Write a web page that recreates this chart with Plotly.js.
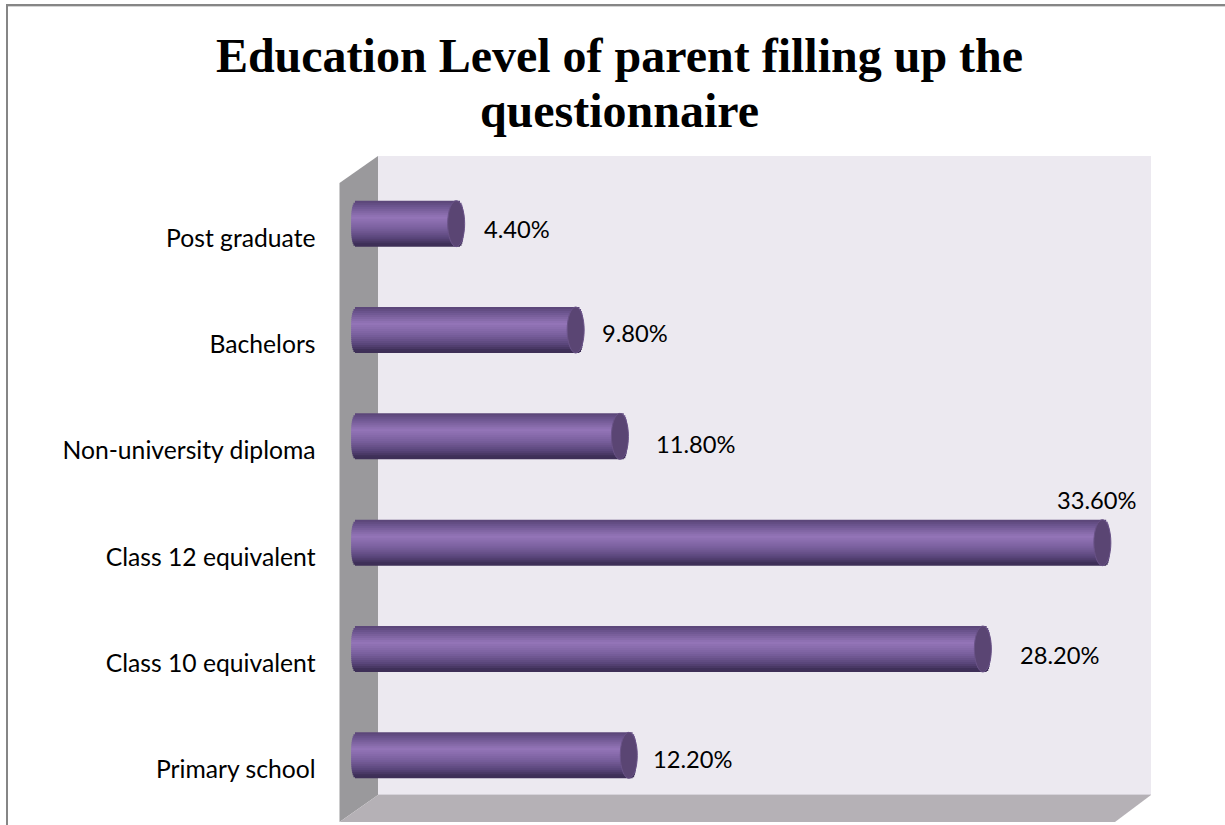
<!DOCTYPE html>
<html>
<head>
<meta charset="utf-8">
<script src="https://cdn.plot.ly/plotly-3.0.1.min.js"></script>
<style>html,body{margin:0;padding:0;background:#fff;overflow:hidden}</style>
</head>
<body>
<div id="chart" style="width:1225px;height:825px"></div>
<script>
// Education level shares, listed bottom to top on the category axis.
const levels = ['Primary school', 'Class 10 equivalent', 'Class 12 equivalent',
                'Non-university diploma', 'Bachelors', 'Post graduate'];
const shares = [12.2, 28.2, 33.6, 11.8, 9.8, 4.4];

// Data label nudges from the end of each bar, in pixels.
const labelDx = [64, 77, -5.5, 76, 59, 61];
const labelDy = [11, 9, 57, 7, 12, 9];

// Vertical shading of the cylinders, top edge to bottom edge.
const shadeStops = [
  [0.00, [88, 68, 118]], [0.12, [108, 85, 142]], [0.36, [148, 117, 184]],
  [0.60, [122, 96, 158]], [0.82, [88, 68, 120]], [0.96, [58, 44, 82]], [1.00, [66, 50, 92]]
];

// Pixel frame of the plotting area.
const L = 340, R = 1152, T = 185, B = 823;
const W = 1225, H = 825;
const pxPerUnitX = 22.13, zeroPx = 358.8;
const pxPerCat = (B - T) / 6;
const px = p => (p - L) / (R - L);
const py = p => (B - p) / (B - T);

// Cylinder geometry.
const barPx = 46, strips = 23;
const centreShift = 14.5 / pxPerCat;
const capRx = 8.5 / pxPerUnitX, capRy = (barPx / 2) / pxPerCat;

function shade(t) {
  for (let i = 1; i < shadeStops.length; i++) {
    const [a, ca] = shadeStops[i - 1], [b, cb] = shadeStops[i];
    if (t <= b) {
      const f = (t - a) / (b - a);
      const c = ca.map((v, k) => Math.round(v + (cb[k] - v) * f));
      return `rgb(${c[0]},${c[1]},${c[2]})`;
    }
  }
  return 'rgb(60,46,84)';
}

// Each cylinder is a stack of thin bars, so its end rounding and shading follow the values.
// Every strip runs a pixel under the next one, which hides any seam between them.
const traces = [];
const stripH = (barPx / strips) / pxPerCat, overlap = 1 / pxPerCat;
for (let s = 0; s < strips; s++) {
  const t = (s + 0.5) / strips;
  const u = Math.abs(2 * t - 1);
  const bulge = 0.9 * capRx * Math.pow(1 - Math.pow(u, 3), 1 / 3);
  const extra = s < strips - 1 ? overlap : 0;
  traces.push({
    type: 'bar', orientation: 'h', y: levels,
    base: shares.map(() => -bulge),
    x: shares.map(v => v + 2 * bulge),
    width: stripH + extra,
    offset: centreShift + capRy - (s + 1) * stripH - extra,
    marker: {color: shade(t), line: {width: 0}},
    hovertemplate: '%{y}: %{customdata}<extra></extra>',
    customdata: shares.map(v => v.toFixed(2) + '%'),
    showlegend: false, cliponaxis: false
  });
}

const poly = (pts, fill) => ({
  type: 'path', xref: 'paper', yref: 'paper', layer: 'below', fillcolor: fill, line: {width: 0},
  path: pts.map((p, i) => (i ? 'L' : 'M') + px(p[0]) + ',' + py(p[1])).join(' ') + ' Z'
});
const rule = (x0, y0, x1, y1, color, width) => ({
  type: 'line', xref: 'paper', yref: 'paper', layer: 'below',
  x0: px(x0), y0: py(y0), x1: px(x1), y1: py(y1), line: {color, width}
});

const shapes = [
  // Page frame, open at the bottom and on the right.
  rule(7, 825, 7, 5, '#868686', 2),
  rule(6, 5, 1225, 5, '#868686', 2),
  rule(8, 6.5, 1225, 6.5, '#d4d4d4', 1),
  // Back wall, side wall and floor of the chart box.
  poly([[378, 156], [1151, 156], [1151, 795], [378, 795]], '#ece9f0'),
  poly([[339.5, 183], [378, 156], [378, 795], [339.5, 822]], '#9a999c'),
  poly([[378, 795], [1151, 795], [1115, 822], [339.5, 822]], '#b5b1b6'),
  rule(378, 794.5, 1151, 794.5, '#d6d3da', 1)
];
// End cap of every cylinder.
shares.forEach((v, i) => shapes.push({
  type: 'circle', xref: 'x', yref: 'y', layer: 'above',
  x0: v - capRx, x1: v + capRx,
  y0: i + centreShift - capRy, y1: i + centreShift + capRy,
  fillcolor: '#5a4573', line: {color: '#6a5388', width: 1}
}));

const tickFont = {family: 'Lato, sans-serif', size: 24.7, color: '#000'};
const valueFont = {family: 'Lato, sans-serif', size: 23.7, color: '#000'};
const annotations = shares.map((v, i) => ({
  x: v, y: i, xref: 'x', yref: 'y', text: v.toFixed(2) + '%', showarrow: false,
  xanchor: 'center', yanchor: 'middle',
  xshift: labelDx[i], yshift: labelDy[i],
  font: valueFont
}));

const layout = {
  width: W, height: H,
  margin: {l: L, r: W - R, t: T, b: H - B, pad: 0},
  paper_bgcolor: '#fff', plot_bgcolor: 'rgba(0,0,0,0)',
  barmode: 'overlay', showlegend: false,
  title: {
    text: 'Education Level of parent filling up the<br>questionnaire',
    font: {family: '"Liberation Serif", serif', size: 48, color: '#000', weight: 700},
    x: 619.5 / W, xanchor: 'center', y: 1 - 72 / H, yanchor: 'top',
    yref: 'container', automargin: false
  },
  xaxis: {
    range: [(L - zeroPx) / pxPerUnitX, (R - zeroPx) / pxPerUnitX],
    showgrid: false, zeroline: false, showticklabels: false, ticks: '', showline: false,
    fixedrange: true
  },
  yaxis: {
    type: 'category', categoryorder: 'array', categoryarray: levels,
    range: [-0.5, 5.5], showgrid: false, zeroline: false, showline: false,
    ticks: 'outside', ticklen: 18.5, tickcolor: 'rgba(0,0,0,0)', tickwidth: 0,
    tickfont: tickFont,
    fixedrange: true
  },
  shapes, annotations
};

Plotly.newPlot('chart', traces, layout, {displayModeBar: false, staticPlot: true}).then(() => {
  // Tighten the leading between the two title lines.
  const lines = document.querySelectorAll('.gtitle tspan.line');
  if (lines[1]) lines[1].setAttribute('dy', '1.146em');
});
</script>
</body>
</html>
